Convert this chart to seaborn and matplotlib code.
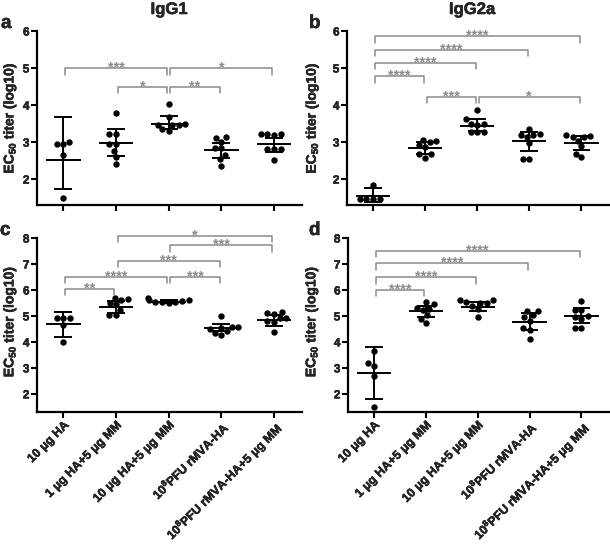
import numpy as np
import pandas as pd
import matplotlib
matplotlib.use("Agg")
import matplotlib.pyplot as plt
import matplotlib.patheffects as pe
import seaborn as sns

# ---------------- data ----------------
groups = ["10 μg HA", "1 μg HA+5 μg MM", "10 μg HA+5 μg MM",
          "10$^{8}$PFU rMVA-HA", "10$^{8}$PFU rMVA-HA+5 μg MM"]

# panel a: IgG1
a_pts = [[3.01, 2.95, 2.94, 2.65, 1.49],
         [3.79, 3.22, 3.22, 2.94, 2.94, 2.76, 2.60, 2.42],
         [4.02, 3.67, 3.47, 3.45, 3.46, 3.48, 3.30, 3.34],
         [3.14, 3.10, 3.01, 2.83, 2.83, 2.65, 2.53, 2.36],
         [3.21, 3.20, 3.21, 3.21, 2.80, 2.80, 2.80, 2.51]]
a_mean = [2.51, 2.98, 3.50, 2.78, 2.95]
a_upper = [3.67, 3.34, 3.70, 2.98, 3.12]
a_lower = [1.73, 2.63, 3.34, 2.56, 2.74]

# panel b: IgG2a
b_pts = [[1.84, 1.47, 1.47, 1.47, 1.47],
         [3.03, 3.05, 2.92, 3.00, 2.87, 2.67, 2.67, 2.58],
         [3.86, 3.62, 3.49, 3.49, 3.46, 3.27, 3.27, 3.26],
         [3.35, 3.21, 3.20, 3.20, 3.14, 2.98, 2.54, 2.54],
         [3.17, 3.18, 3.13, 3.04, 2.89, 2.69, 2.60, 3.15]]
b_mean = [1.54, 2.85, 3.44, 3.03, 2.98]
b_upper = [1.75, 3.01, 3.62, 3.28, 3.16]
b_lower = [1.37, 2.69, 3.30, 2.77, 2.78]

# panel c: IgG1
c_pts = [[4.91, 4.91, 4.91, 4.65, 4.01],
         [5.70, 5.64, 5.60, 5.51, 5.45, 5.23, 5.04, 5.04],
         [5.58, 5.62, 5.70, 5.52, 5.50, 5.55, 5.60, 5.53],
         [5.01, 4.59, 4.55, 4.50, 4.58, 4.40, 4.33, 4.27],
         [5.14, 5.10, 5.08, 4.91, 4.91, 4.78, 4.80, 4.37]]
c_mean = [4.68, 5.36, 5.55, 4.53, 4.85]
c_upper = [5.14, 5.59, 5.60, 4.69, 5.04]
c_lower = [4.20, 5.13, 5.50, 4.40, 4.63]

# panel d: IgG2a
d_pts = [[3.63, 3.20, 3.08, 2.67, 1.51],
         [5.55, 5.45, 5.32, 5.28, 5.22, 5.02, 4.90, 4.74],
         [5.62, 5.62, 5.49, 5.49, 5.52, 5.40, 5.26, 4.97],
         [5.17, 5.17, 5.04, 4.95, 4.82, 4.53, 4.45, 4.10],
         [5.59, 5.23, 5.23, 4.95, 5.00, 4.90, 4.53, 4.53]]
d_mean = [2.82, 5.17, 5.36, 4.78, 5.01]
d_upper = [3.82, 5.40, 5.55, 5.12, 5.32]
d_lower = [1.80, 4.95, 5.17, 4.45, 4.72]

# significance comparisons: (group i, group j, label, bracket height)
a_sig = [(0, 2, "***", 5.0), (2, 4, "*", 5.0), (1, 2, "*", 4.5), (2, 3, "**", 4.5)]
b_sig = [(0, 4, "****", 5.86), (0, 3, "****", 5.50), (0, 2, "****", 5.14),
         (0, 1, "****", 4.78), (1, 2, "***", 4.22), (2, 4, "*", 4.22)]
c_sig = [(1, 4, "*", 8.08), (2, 4, "***", 7.73), (1, 3, "***", 7.13),
         (0, 2, "****", 6.51), (2, 3, "***", 6.51), (0, 1, "**", 6.05)]
d_sig = [(0, 4, "****", 7.51), (0, 3, "****", 7.03), (0, 2, "****", 6.49), (0, 1, "****", 6.0)]

# ---------------- style ----------------
sns.set_style("ticks")
FAM = "Liberation Sans"
plt.rcParams["font.family"] = [FAM, "DejaVu Sans"]
plt.rcParams["font.weight"] = "bold"
plt.rcParams["mathtext.fontset"] = "custom"
plt.rcParams["mathtext.rm"] = FAM + ":bold"
plt.rcParams["mathtext.bf"] = FAM + ":bold"
plt.rcParams["mathtext.default"] = "bf"

GRAY = "#8a8a8a"
THICK = [pe.withStroke(linewidth=0.35, foreground="black")]

fig = plt.figure(figsize=(6.1, 5.44), dpi=100)
W, H = 610.0, 544.0


def px_axes(l, t, r, b):
    return fig.add_axes([l / W, 1 - b / H, (r - l) / W, (b - t) / H])


ax_a = px_axes(37, 31, 302, 205)
ax_b = px_axes(347, 31, 609, 205)
ax_c = px_axes(37, 238, 302, 412)
ax_d = px_axes(348, 238, 609, 412)

panels = [
    (ax_a, a_pts, a_mean, a_upper, a_lower, a_sig, (1.3, 6.0), [2, 3, 4, 5, 6], False, -0.070, 0.5),
    (ax_b, b_pts, b_mean, b_upper, b_lower, b_sig, (1.3, 6.0), [2, 3, 4, 5, 6], False, -0.100, 0.5),
    (ax_c, c_pts, c_mean, c_upper, c_lower, c_sig, (1.3, 8.0), [2, 3, 4, 5, 6, 7, 8], True, -0.070, 0.52),
    (ax_d, d_pts, d_mean, d_upper, d_lower, d_sig, (1.3, 8.0), [2, 3, 4, 5, 6, 7, 8], True, -0.106, 0.52),
]

for ax, pts, mean, upper, lower, sig, ylim, yticks, show_x, ylab_x, ylab_y in panels:
    df = pd.DataFrame({
        "group": [str(i) for i, g in enumerate(pts) for _ in g],
        "value": [v for g in pts for v in g],
    })
    sns.swarmplot(data=df, x="group", y="value", order=[str(i) for i in range(5)],
                  color="black", size=4.6, ax=ax, zorder=2)
    x = np.arange(len(mean))
    lw = 1.4
    ax.hlines(mean, x - 0.33, x + 0.33, color="black", lw=lw, zorder=3)
    ax.vlines(x, lower, upper, color="black", lw=lw, zorder=3)
    ax.hlines(upper, x - 0.17, x + 0.17, color="black", lw=lw, zorder=3)
    ax.hlines(lower, x - 0.17, x + 0.17, color="black", lw=lw, zorder=3)

    ax.set_ylim(*ylim)
    ax.set_xlim(-0.5, 4.53)
    ax.set_yticks(yticks)
    ax.set_yticklabels([str(t) for t in yticks], fontsize=8.5, fontweight="bold")
    ax.set_xticks(x)
    if show_x:
        ax.set_xticklabels(groups, rotation=45, ha="right", rotation_mode="anchor",
                           fontsize=8.8, fontweight="bold")
    else:
        ax.set_xticklabels([])
    for t in ax.get_xticklabels() + ax.get_yticklabels():
        t.set_path_effects(THICK)
    ax.set_xlabel("")
    ax.set_ylabel("EC$_{50}$ titer (log10)", fontsize=10, fontweight="bold")
    ax.yaxis.label.set_path_effects(THICK)
    ax.yaxis.set_label_coords(ylab_x, ylab_y)
    for s in ["top", "right"]:
        ax.spines[s].set_visible(False)
    for s in ["left", "bottom"]:
        ax.spines[s].set_linewidth(1.6)
        ax.spines[s].set_color("black")
    ax.tick_params(axis="y", length=4, width=1.5, color="black", pad=1.5)
    ax.tick_params(axis="x", length=4, width=1.5, color="black", pad=1.0)

    # significance brackets
    px_per_unit = 174.0 / (ylim[1] - ylim[0])
    leg = 6.5 / px_per_unit
    for i, j, lab, yb in sig:
        x1, x2 = i + 0.03, j - 0.03
        ax.plot([x1, x1, x2, x2], [yb - leg, yb, yb, yb - leg], color=GRAY, lw=1.1,
                clip_on=False, zorder=4)
        ax.annotate(lab, xy=((i + j) / 2, yb), xytext=(0, -2.6), textcoords="offset points",
                    ha="center", va="baseline", fontsize=10.5, color=GRAY, fontweight="bold",
                    annotation_clip=False)

# titles and panel letters
for lab, xx in [("IgG1", 169), ("IgG2a", 472)]:
    t = fig.text(xx / W, 1 - 14 / H, lab, ha="center", va="baseline", fontsize=12, fontweight="bold")
    t.set_path_effects(THICK)
for lab, xx, yy in [("a", 1, 28), ("b", 309, 28), ("c", 0, 235), ("d", 309, 235)]:
    t = fig.text(xx / W, 1 - yy / H, lab, ha="left", va="baseline", fontsize=13.5, fontweight="bold")
    t.set_path_effects(THICK)

fig.savefig("out.png", dpi=100)
